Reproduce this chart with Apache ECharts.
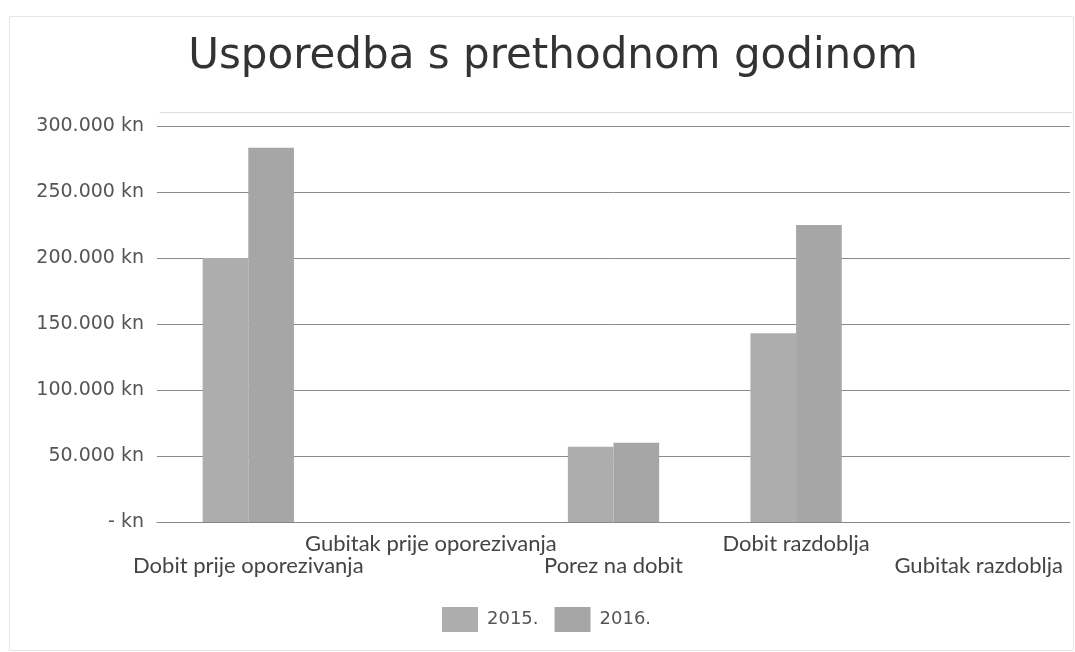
<!DOCTYPE html>
<html>
<head>
<meta charset="utf-8">
<script src="https://cdn.jsdelivr.net/npm/echarts@6/dist/echarts.min.js"></script>
<style>
html,body{margin:0;padding:0;background:#fff;}
#c{width:1075px;height:652px;}
</style>
</head>
<body>
<div id="c"></div>
<script>
var categories = ['Dobit prije oporezivanja', 'Gubitak prije oporezivanja', 'Porez na dobit', 'Dobit razdoblja', 'Gubitak razdoblja'];
var seriesNames = ['2015.', '2016.'];
var values2015 = [200000, 0, 57000, 143000, 0];
var values2016 = [283500, 0, 60000, 225000, 0];
var yTicks = [0, 50000, 100000, 150000, 200000, 250000, 300000];

var chart = echarts.init(document.getElementById('c'));
function fmt(v) {
  if (v === 0) return '- kn';
  return String(v).replace(/\B(?=(\d{3})+(?!\d))/g, '.') + ' kn';
}
var axisFont = '"DejaVu Sans", sans-serif';
chart.setOption({
  backgroundColor: '#ffffff',
  animation: false,
  graphic: [
    { type: 'rect', left: 7, top: 14, shape: { width: 1064, height: 634 }, style: { fill: 'none', stroke: '#e6e6e6', lineWidth: 1 }, silent: true },
    { type: 'line', left: 157, top: 110, shape: { x1: 0, y1: 0, x2: 913, y2: 0 }, style: { stroke: '#dddddd', lineWidth: 1 }, silent: true }
  ],
  title: {
    text: 'Usporedba s prethodnom godinom',
    left: 548,
    top: 31,
    textAlign: 'center',
    textStyle: { fontFamily: '"DejaVu Sans", sans-serif', fontSize: 42, fontWeight: 'normal', color: '#333' }
  },
  legend: {
    data: seriesNames,
    left: 442,
    top: 607,
    padding: 0,
    itemWidth: 36,
    itemHeight: 25,
    itemGap: 16,
    icon: 'rect',
    textStyle: { fontFamily: axisFont, fontSize: 18, color: '#555', padding: [0, 0, 0, 4] }
  },
  grid: { left: 157, right: 5, top: 126, bottom: 130, containLabel: false },
  xAxis: {
    type: 'category',
    data: categories,
    axisLine: { lineStyle: { color: '#888', width: 1 } },
    axisTick: { show: false },
    axisLabel: {
      interval: 0,
      margin: 11,
      lineHeight: 22,
      fontFamily: 'Lato, sans-serif',
      fontSize: 22,
      color: '#444',
      formatter: function (v, i) { return i % 2 === 0 ? '\n' + v : v; }
    }
  },
  yAxis: {
    type: 'value',
    min: yTicks[0],
    max: yTicks[yTicks.length - 1],
    interval: yTicks[1] - yTicks[0],
    axisLine: { show: false },
    axisTick: { show: false },
    splitLine: { lineStyle: { color: '#8a8a8a', width: 1 } },
    axisLabel: {
      margin: 13,
      fontFamily: axisFont,
      fontSize: 19,
      color: '#555',
      formatter: fmt
    }
  },
  series: [
    { name: seriesNames[0], type: 'bar', data: values2015, barGap: '0%', barCategoryGap: '50%', itemStyle: { color: '#adadad' } },
    { name: seriesNames[1], type: 'bar', data: values2016, barGap: '0%', barCategoryGap: '50%', itemStyle: { color: '#a6a6a6' } }
  ]
});
</script>
</body>
</html>
